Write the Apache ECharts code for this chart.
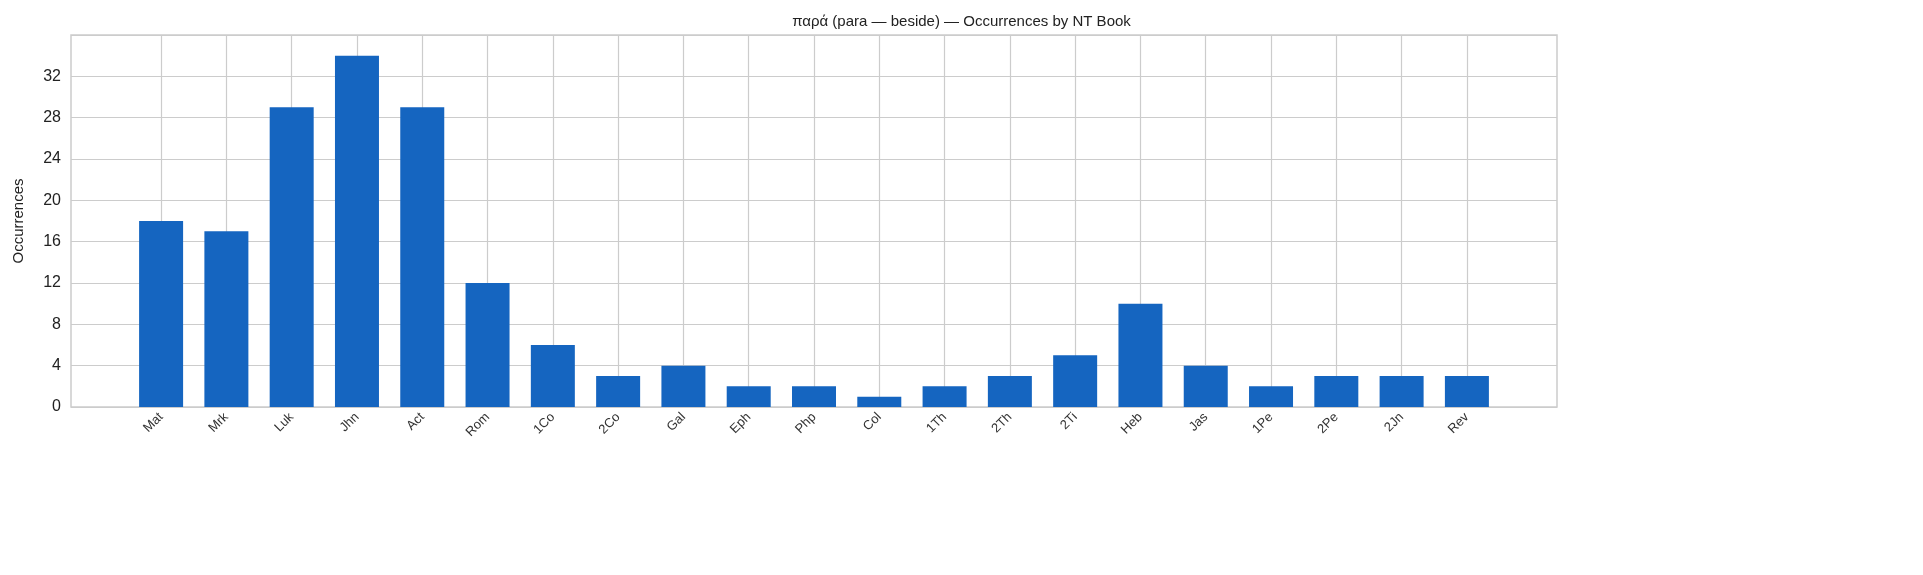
<!DOCTYPE html><html><head><meta charset="utf-8">
<script src="https://cdn.jsdelivr.net/npm/echarts@6/dist/echarts.min.js"></script>
<style>body{margin:0}#c{width:1923px;height:575px}</style></head><body><div id="c"></div>
<script>
const categories=["Mat","Mrk","Luk","Jhn","Act","Rom","1Co","2Co","Gal","Eph","Php","Col","1Th","2Th","2Ti","Heb","Jas","1Pe","2Pe","2Jn","Rev"];
const values=[18,17,29,34,29,12,6,3,4,2,2,1,2,3,5,10,4,2,3,3,3];
const yTicks=[0,4,8,12,16,20,24,28,32];
const idx=categories.map((c,i)=>i);
const F='Liberation Sans, Arial, sans-serif';
const chart=echarts.init(document.getElementById('c'));
chart.setOption({
 title:{text:'παρά (para — beside) — Occurrences by NT Book',left:'center',top:9,textStyle:{fontSize:15,fontWeight:'normal',color:'#222',fontFamily:F}},
 grid:{left:71,right:366,top:35,bottom:168,show:true,borderColor:'#ccc',borderWidth:1.5},
 xAxis:{type:'value',min:-1.38,max:categories.length-1+1.38,
  axisLine:{show:false},
  axisTick:{show:false,customValues:idx},
  axisLabel:{customValues:idx,formatter:v=>categories[Math.round(v)]||'',rotate:45,fontSize:13,color:'#333',fontFamily:F,margin:8},
  splitLine:{show:true,lineStyle:{color:'#ccc',width:1.2}}},
 yAxis:{type:'value',min:0,max:36,interval:4,name:'Occurrences',nameLocation:'middle',nameGap:45,nameTextStyle:{fontSize:15,color:'#222',fontFamily:F},
  axisLine:{show:false},axisTick:{show:false},
  axisLabel:{showMaxLabel:false,fontSize:16,color:'#222',fontFamily:F,margin:10},
  splitLine:{lineStyle:{color:'#ccc',width:1.2}}},
 series:[{type:'bar',barWidth:44,itemStyle:{color:'#1565C0'},data:values.map((v,i)=>[i,v])}]
});
</script></body></html>
